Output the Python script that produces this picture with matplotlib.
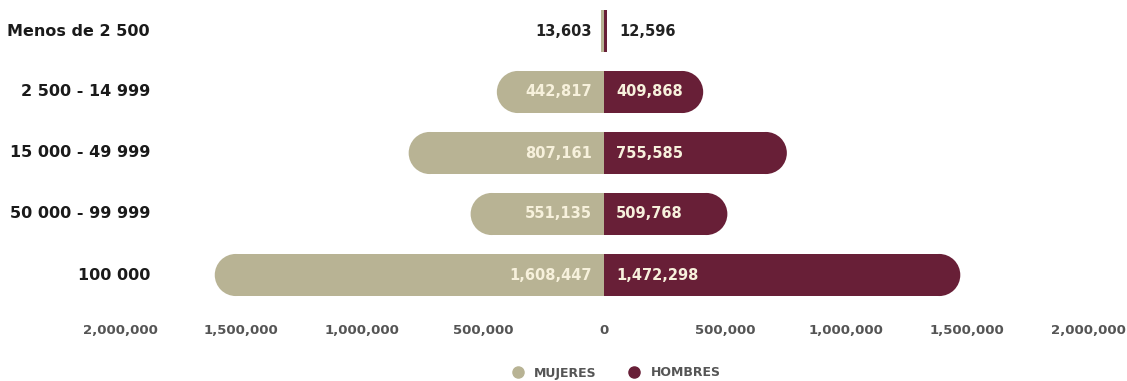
import matplotlib.pyplot as plt
from matplotlib.patches import Ellipse
from matplotlib.lines import Line2D

categorias = ['Menos de 2 500', '2 500 - 14 999', '15 000 - 49 999', '50 000 - 99 999', '100 000']
mujeres = [13603, 442817, 807161, 551135, 1608447]
hombres = [12596, 409868, 755585, 509768, 1472298]
ticks = [-2000000, -1500000, -1000000, -500000, 0, 500000, 1000000, 1500000, 2000000]

c_muj = '#b8b394'
c_hom = '#681f37'
c_txt_in = '#f7f1dc'

plt.rcParams['font.family'] = ['DejaVu Sans']

W, H = 1127, 381
fig = plt.figure(figsize=(W / 100, H / 100), dpi=100)
ax_l, ax_w = 120 / W, 968 / W
ax = fig.add_axes([ax_l, 1 - 305 / H, ax_w, 305 / H])
ax.set_xlim(-2000000, 2000000)
ax.set_ylim((305 - 31) / 61, -31 / 61)

bh = 0.69
r_data = 21 * 4000000 / 968  # radio del extremo redondeado en unidades de datos

def barra(y, v, color):
    vpx = abs(v) / 4000000 * 968
    s = 1 if v > 0 else -1
    if vpx < 2 * 21:
        ax.barh(y, v, height=bh, color=color, linewidth=0)
        return
    ax.barh(y, v - s * r_data, height=bh, color=color, linewidth=0)
    ax.add_patch(Ellipse((v - s * r_data, y), 2 * r_data, bh, color=color, linewidth=0))

for i, (m, h) in enumerate(zip(mujeres, hombres)):
    barra(i, -m, c_muj)
    barra(i, h, c_hom)
    fuera = m / 4000000 * 968 < 80
    col = '#222222' if fuera else c_txt_in
    dx = 12 * 4000000 / 968
    ax.text(-dx, i, f'{m:,}', ha='right', va='center', fontsize=10.5,
            fontweight='bold', color=col)
    ax.text(dx * (1.25 if fuera else 1), i, f'{h:,}', ha='left', va='center', fontsize=10.5,
            fontweight='bold', color=col)
    fig.text(150 / W, 1 - (31 + 61 * i) / H, categorias[i], ha='right', va='center',
             fontsize=11.5, fontweight='bold', color='#1a1a1a')

ax.set_yticks([])
ax.set_xticks(ticks)
ax.set_xticklabels([f'{abs(t):,}' for t in ticks], fontsize=9.5, fontweight='bold', color='#555555')
ax.tick_params(axis='x', length=0, pad=14)
for s in ax.spines.values():
    s.set_visible(False)

handles = [Line2D([], [], marker='o', linestyle='', markersize=8, color=c_muj, label='MUJERES'),
           Line2D([], [], marker='o', linestyle='', markersize=8, color=c_hom, label='HOMBRES')]
leg = fig.legend(handles=handles, loc='center', bbox_to_anchor=(613 / W, 1 - 373 / H), ncol=2,
                 frameon=False, handletextpad=0.3, columnspacing=2.0,
                 prop={'size': 9, 'weight': 'bold'})
for t in leg.get_texts():
    t.set_color('#555555')

fig.savefig('out.png', dpi=100)
